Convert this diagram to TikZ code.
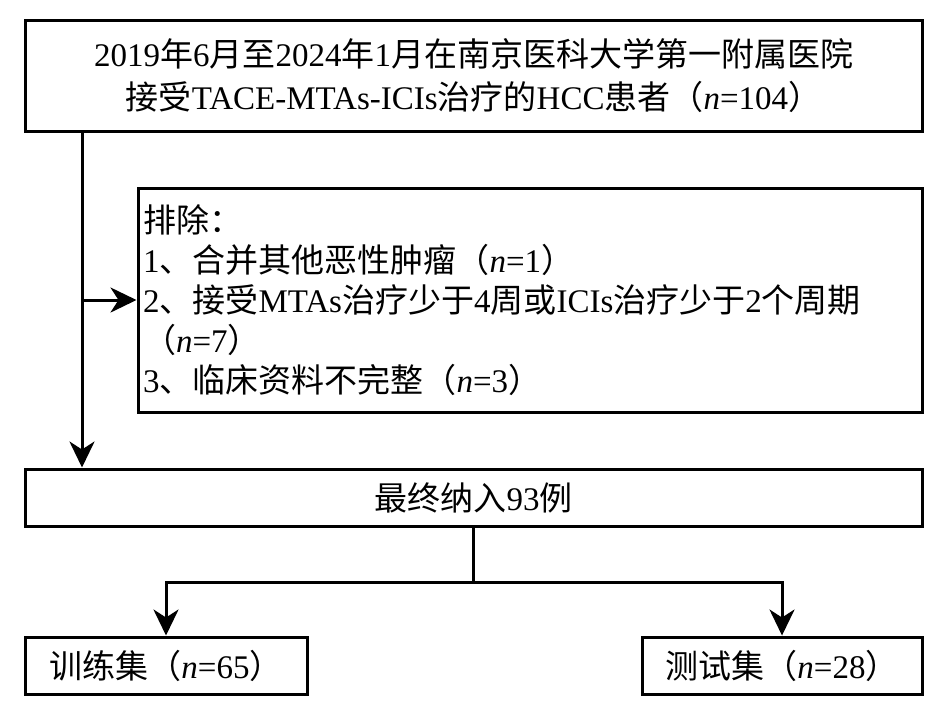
\documentclass[tikz,border=0pt]{standalone}
\usepackage{fontspec}
\setmainfont{Liberation Serif}
\newfontfamily\zh{Noto Sans CJK SC}
\usetikzlibrary{arrows.meta}

\begin{document}
\begin{tikzpicture}[x=0.5pt,y=-0.5pt,
    box/.style={draw,line width=1.5pt,inner sep=2.5pt},
    arr/.style={line width=1.5pt,-{Stealth[length=13pt,width=12.5pt,inset=4pt]}}]
  \useasboundingbox (0,0) rectangle (945,709);
  % boxes
  \node[box,minimum width=448.5pt,minimum height=55.5pt,align=center,
        font=\fontsize{16.5}{21.5}\selectfont] (top) at (473.5,75.5)
    {2019{\zh 年}6{\zh 月至}2024{\zh 年}1{\zh 月在南京医科大学第一附属医院}\\
     {\zh 接受}TACE-MTAs-ICIs{\zh 治疗的}HCC{\zh 患者（}\textit{n}=104{\zh ）}};
  \node[box,minimum width=392pt,minimum height=112pt,text width=387pt,align=left,
        font=\fontsize{16.5}{20}\selectfont] (excl) at (530,300)
    {{\zh 排除：}\\
     1{\zh 、合并其他恶性肿瘤（}\textit{n}=1{\zh ）}\\
     2{\zh 、接受}MTAs{\zh 治疗少于}4{\zh 周或}ICIs{\zh 治疗少于}2{\zh 个周期}\\
     {\zh （}\textit{n}=7{\zh ）}\\
     3{\zh 、临床资料不完整（}\textit{n}=3{\zh ）}};
  \node[box,minimum width=448.5pt,minimum height=28.5pt,
        font=\fontsize{16.5}{20}\selectfont] (final) at (473.5,497.5)
    {{\zh 最终纳入}93{\zh 例}};
  \node[box,minimum width=141pt,minimum height=28.5pt,
        font=\fontsize{16.5}{20}\selectfont] (train) at (166,665.5)
    {{\zh 训练集（}\textit{n}=65{\zh ）}};
  \node[box,minimum width=140pt,minimum height=28.5pt,
        font=\fontsize{16.5}{20}\selectfont] (test) at (782,665.5)
    {{\zh 测试集（}\textit{n}=28{\zh ）}};
  % connectors
  \coordinate (trunk) at (82,0);
  \coordinate (split) at (0,582);
  \draw[arr] (trunk |- top.south) -- (trunk |- final.north);
  \draw[arr] (trunk |- excl.west) -- (excl.west);
  \draw[line width=1.5pt] (final.south) -- (final.south |- split);
  \draw[arr] (final.south |- split) -| (train.north);
  \draw[arr] (final.south |- split) -| (test.north);
\end{tikzpicture}
\end{document}
